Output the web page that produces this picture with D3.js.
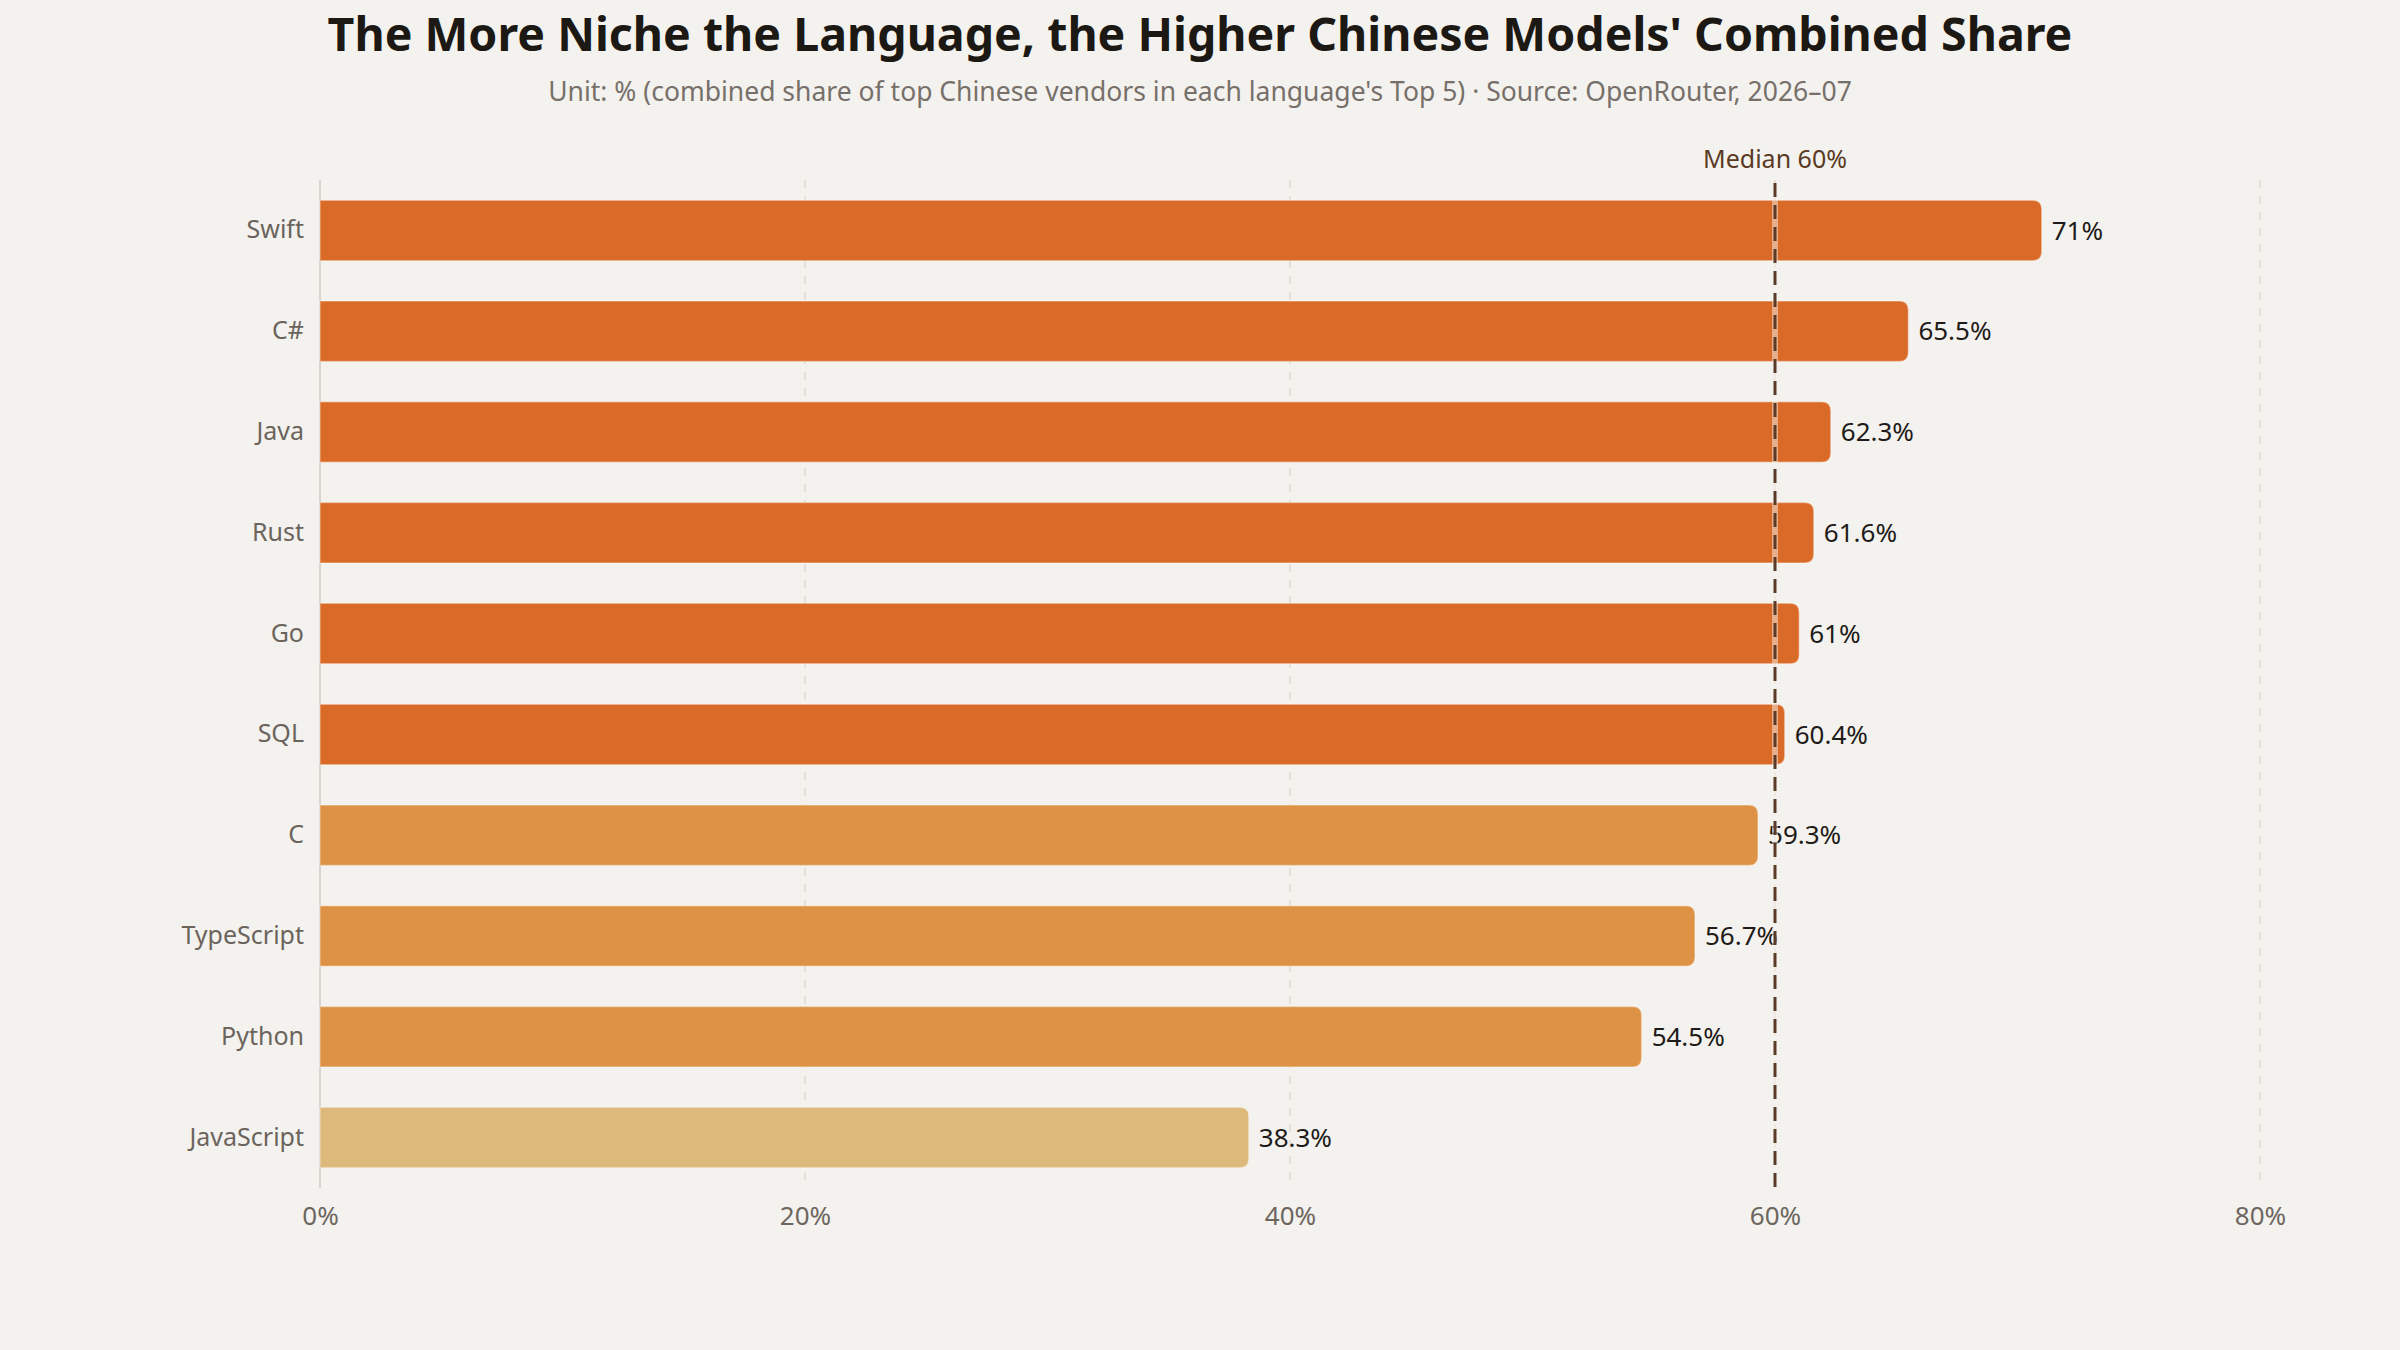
<!DOCTYPE html>
<html>
<head>
<meta charset="utf-8">
<script src="https://cdn.jsdelivr.net/npm/d3@7"></script>
<style>
  body { margin: 0; background: #f4f2ee; }
  svg { display: block; font-family: "Noto Sans", "Liberation Sans", Arial, sans-serif; }
</style>
</head>
<body>
<div id="chart"></div>
<script>
// Data
const languages = ["Swift", "C#", "Java", "Rust", "Go", "SQL", "C", "TypeScript", "Python", "JavaScript"];
const shares = [71, 65.5, 62.3, 61.6, 61, 60.4, 59.3, 56.7, 54.5, 38.3];
const xTicks = [0, 20, 40, 60, 80];
const medianValue = 60;

const width = 2400, height = 1350;
const margin = { top: 180, right: 140, bottom: 162, left: 320 };
const fontFamily = "Noto Sans, Liberation Sans, Arial, sans-serif";

const svg = d3.select("#chart").append("svg")
    .attr("width", width)
    .attr("height", height);

svg.append("rect").attr("width", width).attr("height", height).attr("fill", "#f4f2ee");

// Scales
const x = d3.scaleLinear().domain([0, 80]).range([margin.left, width - margin.right]);
const y = d3.scaleBand().domain(languages)
    .range([margin.top, height - margin.bottom])
    .paddingInner(0.4).paddingOuter(0.2);

// Color tiers by share
const color = d3.scaleThreshold()
    .domain([50, 60])
    .range(["#ddb97b", "#de9245", "#da6a27"]);

// Title
svg.append("text")
    .attr("x", width / 2).attr("y", 51)
    .attr("text-anchor", "middle")
    .attr("font-size", 46.5).attr("font-weight", "bold")
    .attr("fill", "#1c1814")
    .text("The More Niche the Language, the Higher Chinese Models' Combined Share");

svg.append("text")
    .attr("x", width / 2).attr("y", 101)
    .attr("text-anchor", "middle")
    .attr("font-size", 26.5)
    .attr("fill", "#77706a")
    .text("Unit: % (combined share of top Chinese vendors in each language's Top 5) \u00b7 Source: OpenRouter, 2026\u201307");

// Grid
const grid = svg.append("g");
grid.selectAll("line")
    .data(xTicks.filter(d => d > 0))
    .enter().append("line")
    .attr("x1", d => x(d)).attr("x2", d => x(d))
    .attr("y1", margin.top).attr("y2", height - margin.bottom)
    .attr("stroke", "#e6dfd3")
    .attr("stroke-width", 2)
    .attr("stroke-dasharray", "8,8");

// Axis baseline
svg.append("line")
    .attr("x1", x(0)).attr("x2", x(0))
    .attr("y1", margin.top).attr("y2", height - margin.bottom)
    .attr("stroke", "#d9d4cd").attr("stroke-width", 2);

// X axis
const xAxis = svg.append("g")
    .attr("transform", `translate(0,${height - margin.bottom})`)
    .call(d3.axisBottom(x).tickValues(xTicks).tickFormat(d => d + "%").tickSize(0).tickPadding(19));
xAxis.select(".domain").remove();
xAxis.selectAll("text")
    .attr("font-size", 26)
    .attr("font-family", fontFamily)
    .attr("fill", "#6d665f");

// Y axis labels
const yAxis = svg.append("g")
    .attr("transform", `translate(${x(0)},0)`)
    .call(d3.axisLeft(y).tickSize(0).tickPadding(16));
yAxis.select(".domain").remove();
yAxis.selectAll("text")
    .attr("font-size", 25)
    .attr("font-family", fontFamily)
    .attr("fill", "#6b645d");

// Bars (rounded right end only)
const r = 9;
const rows = languages.map((lang, i) => ({ lang, value: shares[i] }));

function barPath(d) {
    const x0 = x(0), x1 = x(d.value), y0 = y(d.lang), h = y.bandwidth();
    return `M${x0},${y0}H${x1 - r}Q${x1},${y0} ${x1},${y0 + r}V${y0 + h - r}Q${x1},${y0 + h} ${x1 - r},${y0 + h}H${x0}Z`;
}

svg.append("g").selectAll("path")
    .data(rows)
    .enter().append("path")
    .attr("d", barPath)
    .attr("fill", d => color(d.value))
    .attr("stroke", "rgba(255,255,255,0.35)")
    .attr("stroke-width", 1.5);

// Value labels
svg.append("g").selectAll("text")
    .data(rows)
    .enter().append("text")
    .attr("x", d => x(d.value) + 10)
    .attr("y", d => y(d.lang) + y.bandwidth() / 2)
    .attr("dy", "0.35em")
    .attr("font-size", 26)
    .attr("fill", "#1e1b18")
    .text(d => d.value + "%");

// Median line
svg.append("line")
    .attr("x1", x(medianValue)).attr("x2", x(medianValue))
    .attr("y1", margin.top + 3).attr("y2", height - margin.bottom)
    .attr("stroke", "#f4f2ee").attr("stroke-opacity", 0.5)
    .attr("stroke-width", 6);
svg.append("line")
    .attr("x1", x(medianValue)).attr("x2", x(medianValue))
    .attr("y1", margin.top + 3).attr("y2", height - margin.bottom)
    .attr("stroke", "#5b3a27")
    .attr("stroke-width", 3)
    .attr("stroke-dasharray", "14,8");

svg.append("text")
    .attr("x", x(medianValue)).attr("y", 168)
    .attr("text-anchor", "middle")
    .attr("font-size", 25)
    .attr("fill", "#5a3a25")
    .text("Median " + medianValue + "%");
</script>
</body>
</html>
